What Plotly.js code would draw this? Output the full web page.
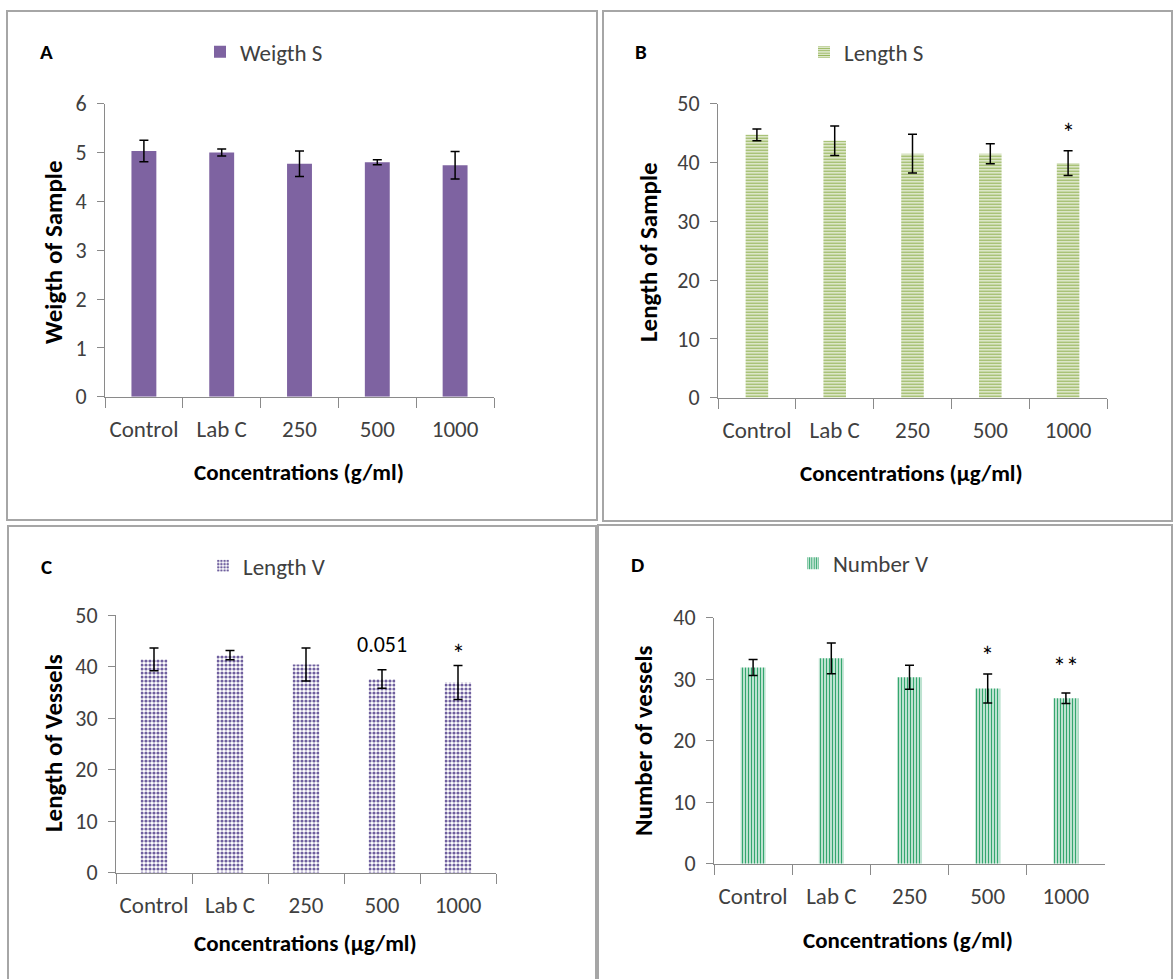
<!DOCTYPE html>
<html>
<head>
<meta charset="utf-8">
<script src="https://cdn.plot.ly/plotly-3.0.1.min.js"></script>
<style>html,body{margin:0;padding:0;background:#fff;} #chart{width:1173px;height:979px;}</style>
</head>
<body>
<div id="chart"></div>
<script>
// ---- data ----
var categories = ["Control", "Lab C", "250", "500", "1000"];

var weightS = [5.03, 5.00, 4.77, 4.80, 4.74];
var weightSErr = [0.22, 0.07, 0.26, 0.05, 0.28];

var lengthS = [44.7, 43.7, 41.5, 41.5, 39.9];
var lengthSErr = [1.0, 2.5, 3.3, 1.7, 2.1];

var lengthV = [41.4, 42.2, 40.4, 37.6, 36.9];
var lengthVErr = [2.2, 0.9, 3.2, 1.8, 3.3];

var numberV = [31.9, 33.4, 30.3, 28.5, 26.9];
var numberVErr = [1.3, 2.5, 1.95, 2.35, 0.85];

var notesB = ["", "", "", "", "*"];
var notesC = ["", "", "", "0.051", "*"];
var notesD = ["", "", "", "*", "**"];

// ---- helpers (layout only) ----
var W = 1173, H = 979;
function px(x) { return x / W; }
function py(y) { return 1 - y / H; }
var FONT = "Carlito, Lato, 'Noto Sans', sans-serif";
var TICKC = "#404040";
var AXC = "#8a8a8a";

function errbar(arr) {
  return {type: "data", array: arr, visible: true, color: "#000", thickness: 1.5, width: 4.5};
}

var traces = [
  {type: "bar", x: categories, y: weightS, name: "Weigth S", xaxis: "x", yaxis: "y",
   width: 0.32, marker: {color: "#7E63A1", line: {width: 0}}, error_y: errbar(weightSErr), legend: "legend"},
  {type: "bar", x: categories, y: lengthS, name: "Length S", xaxis: "x2", yaxis: "y2",
   width: 0.29, marker: {color: "#ffffff", line: {width: 0},
     pattern: {shape: "-", fgcolor: "#93B356", bgcolor: "#ffffff", size: 3, solidity: 0.55}},
   error_y: errbar(lengthSErr), legend: "legend2"},
  {type: "bar", x: categories, y: lengthV, name: "Length V", xaxis: "x3", yaxis: "y3",
   width: 0.35, marker: {color: "#ffffff", line: {width: 0},
     pattern: {shape: ".", fgcolor: "#6F5F9E", bgcolor: "#ffffff", size: 4, solidity: 0.5}},
   error_y: errbar(lengthVErr), legend: "legend3"},
  {type: "bar", x: categories, y: numberV, name: "Number V", xaxis: "x4", yaxis: "y4",
   width: 0.32, marker: {color: "#ffffff", line: {width: 0},
     pattern: {shape: "|", fgcolor: "#34A66E", bgcolor: "#ffffff", size: 3, solidity: 0.55}},
   error_y: errbar(numberVErr), legend: "legend4"}
];

function xax(d, anchor) {
  return {domain: d, anchor: anchor, type: "category", showline: true, linecolor: AXC, linewidth: 1,
    range: [-0.5, 4.5], autorange: false, tickangle: 0,
    ticks: "outside", tickson: "boundaries", ticklen: 10, tickcolor: AXC, showgrid: false, zeroline: false,
    tickfont: {family: FONT, size: 23, color: TICKC}, ticklabelstandoff: 12, fixedrange: true};
}
function yax(d, anchor, max, dt) {
  return {domain: d, anchor: anchor, range: [0, max], dtick: dt, showline: true, linecolor: AXC, linewidth: 1,
    ticks: "outside", ticklen: 7, tickcolor: AXC, showgrid: false, zeroline: false,
    tickfont: {family: FONT, size: 22, color: TICKC}, ticklabelstandoff: 6, fixedrange: true};
}

function leg(x, y) {
  return {x: x, y: y, xanchor: "left", yanchor: "middle", orientation: "h", bgcolor: "rgba(0,0,0,0)",
    font: {family: FONT, size: 23, color: "#404040"}, itemwidth: 30};
}

var layout = {
  width: W, height: H,
  margin: {l: 0, r: 0, t: 0, b: 0},
  paper_bgcolor: "#fff", plot_bgcolor: "rgba(0,0,0,0)",
  showlegend: true,
  xaxis: xax([px(105), px(494)], "y"),
  yaxis: yax([py(396.7), py(103.7)], "x", 6, 1),
  xaxis2: xax([px(718), px(1107)], "y2"),
  yaxis2: yax([py(397.7), py(103.7)], "x2", 50, 10),
  xaxis3: xax([px(116), px(496)], "y3"),
  yaxis3: yax([py(872.7), py(615)], "x3", 50, 10),
  xaxis4: xax([px(714), px(1105)], "y4"),
  yaxis4: yax([py(863.7), py(617.7)], "x4", 40, 10),
  legend: leg(px(200), py(51.7)),
  legend2: leg(px(804), py(52)),
  legend3: leg(px(203), py(565.7)),
  legend4: leg(px(793), py(563.3)),
  shapes: [
    {type: "rect", xref: "paper", yref: "paper", x0: px(7), x1: px(597), y0: py(520), y1: py(11), line: {color: "#a6a6a6", width: 2}},
    {type: "rect", xref: "paper", yref: "paper", x0: px(603), x1: px(1172), y0: py(521), y1: py(11), line: {color: "#a6a6a6", width: 2}},
    {type: "rect", xref: "paper", yref: "paper", x0: px(8), x1: px(596), y0: py(990), y1: py(526), line: {color: "#a6a6a6", width: 2}},
    {type: "rect", xref: "paper", yref: "paper", x0: px(598), x1: px(1172), y0: py(990), y1: py(525), line: {color: "#a6a6a6", width: 2}}
  ],
  annotations: []
};

function ann(text, x, y, size, opts) {
  var a = {text: text, xref: "paper", yref: "paper", x: px(x), y: py(y), showarrow: false,
    xanchor: "center", yanchor: "middle", font: {family: FONT, size: size, color: "#000"}};
  for (var k in opts) a[k] = opts[k];
  return a;
}
var A = layout.annotations;
// panel letters
A.push(ann("<b>A</b>", 46, 52, 21));
A.push(ann("<b>B</b>", 641, 52, 21));
A.push(ann("<b>C</b>", 46, 567, 21));
A.push(ann("<b>D</b>", 637, 565, 21));
// x titles
A.push(ann("<b>Concentrations (g/ml)</b>", 299, 472, 23));
A.push(ann("<b>Concentrations (µg/ml)</b>", 912, 473, 23));
A.push(ann("<b>Concentrations (µg/ml)</b>", 305, 943, 23));
A.push(ann("<b>Concentrations (g/ml)</b>", 908, 940, 23));
// y titles
A.push(ann("<b>Weigth of Sample</b>", 53, 252, 25, {textangle: -90}));
A.push(ann("<b>Length of Sample</b>", 648, 252, 25, {textangle: -90}));
A.push(ann("<b>Length of Vessels</b>", 53, 743, 25, {textangle: -90}));
A.push(ann("<b>Number of vessels</b>", 643, 741, 25, {textangle: -90}));

// significance notes above error bars
function notes(list, vals, errs, xa, ya, shifts, size) {
  for (var i = 0; i < list.length; i++) {
    if (!list[i]) continue;
    A.push({text: list[i], xref: xa, yref: ya, x: i, y: vals[i] + errs[i],
      showarrow: false, xanchor: "center", yanchor: "bottom", yshift: shifts[i],
      font: {family: FONT, size: size[i], color: "#000"}});
  }
}
notes(notesB, lengthS, lengthSErr, "x2", "y2", [0, 0, 0, 0, 0], [0, 0, 0, 0, 26]);
notes(notesC, lengthV, lengthVErr, "x3", "y3", [0, 0, 0, 10, -6], [0, 0, 0, 22, 26]);
notes(notesD, numberV, numberVErr, "x4", "y4", [0, 0, 0, 0, 8], [0, 0, 0, 26, 26]);

Plotly.newPlot("chart", traces, layout, {displayModeBar: false, staticPlot: true});
</script>
</body>
</html>
